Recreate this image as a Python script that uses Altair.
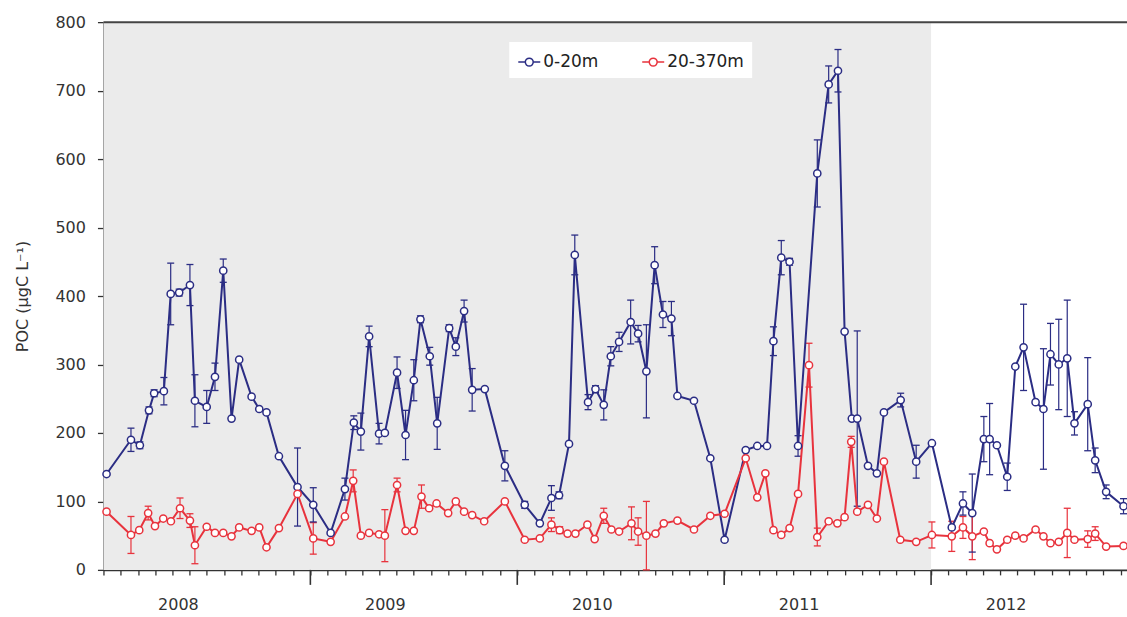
import altair as alt
import pandas as pd

# ---------------- data ----------------
series_names = ["0-20m", "20-370m"]
series_colors = ["#2b2d84", "#e8333d"]

# 0-20 m : decimal year, POC value, error
blue_t = [2008.015, 2008.133, 2008.176, 2008.220, 2008.245, 2008.292, 2008.325, 2008.366, 2008.418, 2008.442,
          2008.499, 2008.539, 2008.579, 2008.619, 2008.656, 2008.716, 2008.753, 2008.788, 2008.848, 2008.938,
          2009.014, 2009.098, 2009.167, 2009.210, 2009.244, 2009.284, 2009.332, 2009.360, 2009.419, 2009.460,
          2009.500, 2009.532, 2009.577, 2009.613, 2009.671, 2009.703, 2009.743, 2009.782, 2009.843, 2009.940,
          2010.036, 2010.109, 2010.165, 2010.202, 2010.250, 2010.278, 2010.342, 2010.378, 2010.418, 2010.452,
          2010.492, 2010.548, 2010.584, 2010.624, 2010.664, 2010.704, 2010.745, 2010.774, 2010.854, 2010.933,
          2011.002, 2011.104, 2011.160, 2011.207, 2011.238, 2011.276, 2011.316, 2011.357, 2011.450, 2011.505,
          2011.550, 2011.582, 2011.617, 2011.643, 2011.695, 2011.738, 2011.772, 2011.853, 2011.928,
          2012.004, 2012.100, 2012.154, 2012.199, 2012.255, 2012.283, 2012.318, 2012.368, 2012.407, 2012.447,
          2012.505, 2012.543, 2012.577, 2012.617, 2012.658, 2012.693, 2012.757, 2012.793, 2012.846, 2012.930]
blue_v = [140, 190, 182, 233, 258, 261, 403, 405, 416, 247, 238, 282, 437, 221, 307, 253, 235, 230, 166, 121,
          95, 54, 118, 215, 202, 341, 199, 200, 288, 197, 277, 366, 312, 214, 353, 326, 378, 263, 264, 152,
          95, 68, 105, 109, 184, 460, 245, 264, 241, 312, 333, 362, 345, 290, 445, 373, 367, 254, 247, 163,
          44, 175, 181, 181, 334, 456, 450, 181, 579, 709, 729, 348, 221, 221, 152, 141, 230, 248, 158,
          185, 62, 97, 83, 191, 191, 182, 136, 297, 325, 245, 235, 315, 300, 309, 214, 242, 160, 114, 93]
blue_e = [0, 17, 5, 5, 5, 20, 45, 5, 30, 38, 24, 20, 17, 0, 0, 0, 0, 0, 0, 57,
          25, 0, 16, 10, 27, 15, 15, 0, 23, 36, 30, 5, 13, 38, 5, 13, 16, 31, 0, 22,
          5, 0, 18, 5, 0, 29, 11, 5, 22, 14, 14, 32, 12, 68, 27, 19, 25, 0, 0, 0,
          0, 0, 0, 0, 21, 25, 5, 15, 49, 27, 31, 0, 0, 128, 0, 0, 0, 10, 24,
          0, 0, 17, 57, 33, 52, 0, 20, 0, 63, 0, 88, 45, 66, 85, 17, 68, 18, 10, 11]

# 20-370 m
red_t = [2008.015, 2008.133, 2008.173, 2008.216, 2008.249, 2008.289, 2008.326, 2008.370, 2008.418, 2008.442,
         2008.499, 2008.539, 2008.579, 2008.619, 2008.656, 2008.716, 2008.753, 2008.788, 2008.848, 2008.938,
         2009.014, 2009.098, 2009.167, 2009.207, 2009.244, 2009.284, 2009.332, 2009.360, 2009.419, 2009.460,
         2009.500, 2009.537, 2009.574, 2009.610, 2009.666, 2009.703, 2009.743, 2009.782, 2009.840, 2009.940,
         2010.036, 2010.109, 2010.165, 2010.205, 2010.243, 2010.281, 2010.339, 2010.374, 2010.418, 2010.455,
         2010.492, 2010.552, 2010.584, 2010.624, 2010.668, 2010.708, 2010.774, 2010.854, 2010.933,
         2011.002, 2011.104, 2011.160, 2011.199, 2011.238, 2011.276, 2011.316, 2011.357, 2011.410, 2011.450,
         2011.505, 2011.547, 2011.582, 2011.614, 2011.643, 2011.695, 2011.738, 2011.772, 2011.851, 2011.928,
         2012.004, 2012.100, 2012.154, 2012.199, 2012.255, 2012.283, 2012.318, 2012.368, 2012.407, 2012.447,
         2012.505, 2012.543, 2012.577, 2012.617, 2012.658, 2012.693, 2012.757, 2012.793, 2012.846, 2012.930]
red_v = [85, 51, 58, 83, 64, 75, 71, 90, 72, 36, 63, 54, 54, 49, 62, 57, 62, 33, 61, 111,
         46, 41, 78, 130, 50, 54, 52, 50, 124, 57, 57, 107, 90, 97, 83, 100, 85, 80, 71, 100,
         44, 46, 66, 58, 53, 53, 66, 45, 79, 59, 56, 68, 56, 50, 53, 68, 72, 59, 79,
         82, 163, 106, 141, 58, 51, 61, 111, 299, 48, 71, 68, 77, 187, 85, 95, 75, 158, 44, 41,
         51, 49, 62, 49, 56, 39, 30, 44, 50, 46, 59, 49, 39, 41, 54, 44, 45, 53, 34, 35]
red_e = [0, 27, 0, 10, 0, 0, 0, 15, 10, 27, 0, 0, 0, 0, 0, 0, 0, 0, 0, 0,
         23, 0, 0, 16, 0, 0, 0, 38, 10, 0, 0, 17, 0, 0, 0, 0, 0, 0, 0, 0,
         0, 0, 10, 5, 0, 0, 0, 0, 11, 0, 0, 24, 20, 50, 0, 0, 0, 0, 0,
         0, 0, 0, 0, 0, 0, 0, 0, 32, 13, 0, 0, 0, 8, 0, 0, 0, 0, 0, 0,
         19, 22, 16, 34, 0, 0, 0, 0, 0, 0, 0, 0, 0, 0, 36, 0, 12, 10, 0, 0]

shade_start = [2008]
shade_end = [2012]
year_marks = [2009, 2010, 2011, 2012]
top_value = [800]
month_ticks = [2008 + k / 12 for k in range(0, 60)]

# ---------------- frames ----------------
blue = pd.DataFrame({"t": blue_t, "v": blue_v, "e": blue_e, "s": series_names[0]})
red = pd.DataFrame({"t": red_t, "v": red_v, "e": red_e, "s": series_names[1]})
for d in (blue, red):
    d["lo"] = d["v"] - d["e"]
    d["hi"] = d["v"] + d["e"]
allpts = pd.concat([blue, red], ignore_index=True)

W, H = 1024, 548
x_dom = [2008, 2008 + W / 207]
xs = alt.Scale(domain=x_dom, nice=False, zero=False)
ys = alt.Scale(domain=[0, 800], nice=False)
cscale = alt.Scale(domain=series_names, range=series_colors)
FONT = "DejaVu Sans"

x_axis = alt.Axis(
    values=month_ticks, tickCount=200, tickSize=5, tickColor="#333", tickWidth=1.3,
    domainColor="#333", domainWidth=1.6, grid=False, title=None,
    labelExpr="abs(datum.value - floor(datum.value) - 0.5) < 0.01 ? floor(datum.value) : ''",
    labelFont=FONT, labelFontSize=16, labelColor="#333", labelPadding=22,
    labelOffset=-29, labelOverlap=False, labelBound=False, labelFlush=False,
)
y_axis = alt.Axis(
    values=[0, 100, 200, 300, 400, 500, 600, 700, 800], tickCount=20, tickSize=6, tickColor="#333",
    tickWidth=1.3, domainColor="#333", domainWidth=1.6, grid=False,
    title="POC (µgC L⁻¹)", titleFont=FONT, titleFontSize=16, titleFontWeight="normal",
    titleColor="#333", titlePadding=24,
    labelFont=FONT, labelFontSize=16, labelColor="#333", labelPadding=12,
)

shade = alt.Chart(pd.DataFrame({"a": shade_start, "b": shade_end})).mark_rect(
    color="#ebebeb"
).encode(
    x=alt.X("a:Q", scale=xs, axis=x_axis),
    x2="b:Q",
    y=alt.value(0),
    y2=alt.value(H),
)

top_rule = alt.Chart(pd.DataFrame({"y": top_value})).mark_rule(
    color="#444", strokeWidth=2
).encode(y=alt.Y("y:Q", scale=ys, axis=y_axis))

year_ticks = alt.Chart(pd.DataFrame({"yr": year_marks})).mark_rule(
    color="#333", strokeWidth=1.6
).encode(
    x=alt.X("yr:Q", scale=xs),
    y=alt.value(H),
    y2=alt.value(H + 15),
)

legend = alt.Legend(
    orient="none", legendX=406, legendY=20, direction="horizontal", title=None,
    fillColor="white", padding=8,
    symbolType="M-1,0L-0.36,0M0.36,0L1,0M0.36,0A0.36,0.36,0,1,1,-0.36,0A0.36,0.36,0,1,1,0.36,0",
    symbolSize=484, symbolStrokeWidth=1.5,
    labelFont=FONT, labelFontSize=17, labelColor="#222", labelOffset=2,
    columnPadding=40,
)

X = alt.X("t:Q", scale=xs)
C = alt.Color("s:N", scale=cscale)

err_base = alt.Chart(allpts).transform_filter("datum.e > 0")
err_rule = err_base.mark_rule(strokeWidth=1.2).encode(
    x=X, y=alt.Y("lo:Q", scale=ys), y2="hi:Q", color=C,
)
err_top = err_base.mark_rule(strokeWidth=1.3, xOffset=-3.5, x2Offset=3.5).encode(
    x=X, x2="t:Q", y=alt.Y("hi:Q", scale=ys), color=C,
)
err_bot = err_base.mark_rule(strokeWidth=1.3, xOffset=-3.5, x2Offset=3.5).encode(
    x=X, x2="t:Q", y=alt.Y("lo:Q", scale=ys), color=C,
)

lines = alt.Chart(allpts).mark_line(strokeWidth=2).encode(
    x=X, y=alt.Y("v:Q", scale=ys),
    color=alt.Color("s:N", scale=cscale, legend=legend),
    detail="s:N",
)
pts = alt.Chart(allpts).mark_point(shape="circle", filled=False, fill="white", size=52,
                                   strokeWidth=1.5, opacity=1).encode(
    x=X, y=alt.Y("v:Q", scale=ys), color=C,
)

chart = alt.layer(
    shade, top_rule, year_ticks, err_rule, err_top, err_bot, lines, pts,
).properties(
    width=W, height=H,
    autosize=alt.AutoSizeParams(type="none"),
    padding={"left": 103.5, "top": 22, "right": 0, "bottom": 47},
).configure_view(stroke=None)

chart.save("out.html", embed_options={"renderer": "svg", "actions": False})
